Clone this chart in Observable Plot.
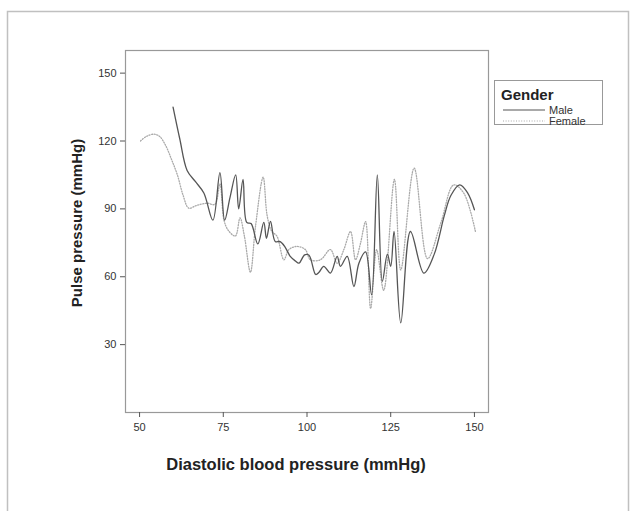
<!DOCTYPE html>
<html>
<head>
<meta charset="utf-8">
<script src="https://cdn.jsdelivr.net/npm/d3@7"></script>
<script src="https://cdn.jsdelivr.net/npm/@observablehq/plot@0.6"></script>
<style>
  html, body { margin: 0; padding: 0; background: #fff; }
  #chart { position: relative; width: 635px; height: 511px; }
</style>
</head>
<body>
<div id="chart"></div>
<script>
const xTicks = [50, 75, 100, 125, 150];
const yTicks = [30, 60, 90, 120, 150];
const seriesNames = ["Male", "Female"];
const legendTitle = "Gender";
const xLabel = "Diastolic blood pressure (mmHg)";
const yLabel = "Pulse pressure (mmHg)";

const maleX = [60, 62, 64.2, 66.7, 69.2, 71.9, 74, 75.4, 77, 78.7, 79.6, 80.9, 82, 83.3, 85.3, 87.1, 87.9, 89.1, 90.5, 92, 93.5, 95, 96.5, 97.6, 99.3, 100.6, 102.6, 103.6, 105, 107, 109, 110, 112, 114, 115.5, 117.5, 119.3, 121, 122.5, 124, 125, 126, 128, 130.9, 134.9, 138, 141, 143, 145.6, 148, 150];
const maleY = [135, 121, 107, 102, 97, 85, 106, 85, 95, 105, 90, 103, 84, 83.5, 74.5, 84, 77, 84.5, 75.6, 75.5, 73, 69, 67, 66, 69.7, 69.5, 61, 62, 64.6, 61.6, 69, 64.6, 69, 55.7, 66, 71, 52, 105, 58, 70, 64.6, 80, 39.6, 80, 61.6, 70, 87, 96, 100.6, 97, 89.6];

const femaleX = [50.3, 52, 54.3, 56, 57.8, 59.5, 61.3, 63, 64.7, 67, 70.2, 72.5, 74, 75.2, 76.5, 78.6, 80, 81.3, 83.1, 84.6, 86.9, 88.1, 89.5, 91, 93.1, 94.6, 97, 99.5, 101, 104, 107, 109, 111, 113, 114.5, 116, 117.5, 119, 120.8, 122.9, 126.1, 128, 132, 136, 140, 143.8, 146.8, 150.3];
const femaleY = [120, 122, 123, 122, 118, 112, 105, 96, 90.3, 91.5, 92.5, 92, 101, 85, 80.5, 78, 86, 78, 62, 82, 104, 87, 80, 78, 67.5, 72, 73.4, 72, 67.5, 67.5, 72, 66, 72, 80, 67.5, 75, 84.4, 46, 72, 54, 103, 63, 108, 68, 84, 100.6, 97, 80];

const male = maleX.map((x, i) => ({x, y: maleY[i]}));
const female = femaleX.map((x, i) => ({x, y: femaleY[i]}));

const ML = 125, MT = 50, MR = 147, MB = 99;
const FONT = "Liberation Sans, Arial, sans-serif";

const plot = Plot.plot({
  width: 635,
  height: 511,
  marginLeft: ML,
  marginTop: MT,
  marginRight: MR,
  marginBottom: MB,
  style: {fontFamily: FONT, fontSize: "11px", color: "#333", background: "#fff"},
  x: {domain: [45.8, 154.2]},
  y: {domain: [0, 160]},
  marks: [
    Plot.frame({stroke: "#999", strokeWidth: 1.2}),
    Plot.axisX({ticks: xTicks, tickSize: 5, tickPadding: 6, label: null, stroke: "#555", fill: "#333", fontSize: 11}),
    Plot.axisY({ticks: yTicks, tickSize: 5, tickPadding: 4, label: null, stroke: "#555", fill: "#333", fontSize: 11}),
    Plot.line(female, {x: "x", y: "y", curve: "catmull-rom", stroke: "#aaa", strokeWidth: 1.3, strokeDasharray: "1,1.6"}),
    Plot.line(male, {x: "x", y: "y", curve: "catmull-rom", stroke: "#555", strokeWidth: 1.3})
  ]
});

document.getElementById("chart").appendChild(plot);
const svg = d3.select(plot);

// outer border
svg.append("path")
  .attr("d", "M7.5,511 L7.5,11.5 L628.5,11.5 L628.5,511")
  .attr("fill", "none").attr("stroke", "#c0c0c0").attr("stroke-width", 1.5);

// axis titles
svg.append("text")
  .attr("x", 296).attr("y", 470)
  .attr("text-anchor", "middle")
  .attr("font-family", FONT)
  .attr("font-weight", "bold").attr("font-size", 16.5).attr("fill", "#222")
  .text(xLabel);
svg.append("text")
  .attr("transform", "translate(82,223) rotate(-90)")
  .attr("text-anchor", "middle")
  .attr("font-family", FONT)
  .attr("font-weight", "bold").attr("font-size", 15).attr("fill", "#222")
  .text(yLabel);

// legend
const lg = svg.append("g").attr("font-family", FONT).attr("text-anchor", "start");
lg.append("rect").attr("x", 494.5).attr("y", 80.5).attr("width", 108).attr("height", 44)
  .attr("fill", "#fff").attr("stroke", "#999");
lg.append("text").attr("x", 501).attr("y", 100).attr("text-anchor", "start").attr("font-weight", "bold").attr("font-size", 15).attr("fill", "#222").text(legendTitle);
const ys = [110, 121];
const styles = [{stroke: "#555", dash: null}, {stroke: "#aaa", dash: "1,1.6"}];
seriesNames.forEach((n, i) => {
  lg.append("line").attr("x1", 503).attr("x2", 545).attr("y1", ys[i]).attr("y2", ys[i])
    .attr("stroke", styles[i].stroke).attr("stroke-width", 1.2).attr("stroke-dasharray", styles[i].dash);
  lg.append("text").attr("x", 549).attr("y", ys[i] + 4).attr("text-anchor", "start").attr("font-size", 11).attr("fill", "#333").text(n);
});
</script>
</body>
</html>
